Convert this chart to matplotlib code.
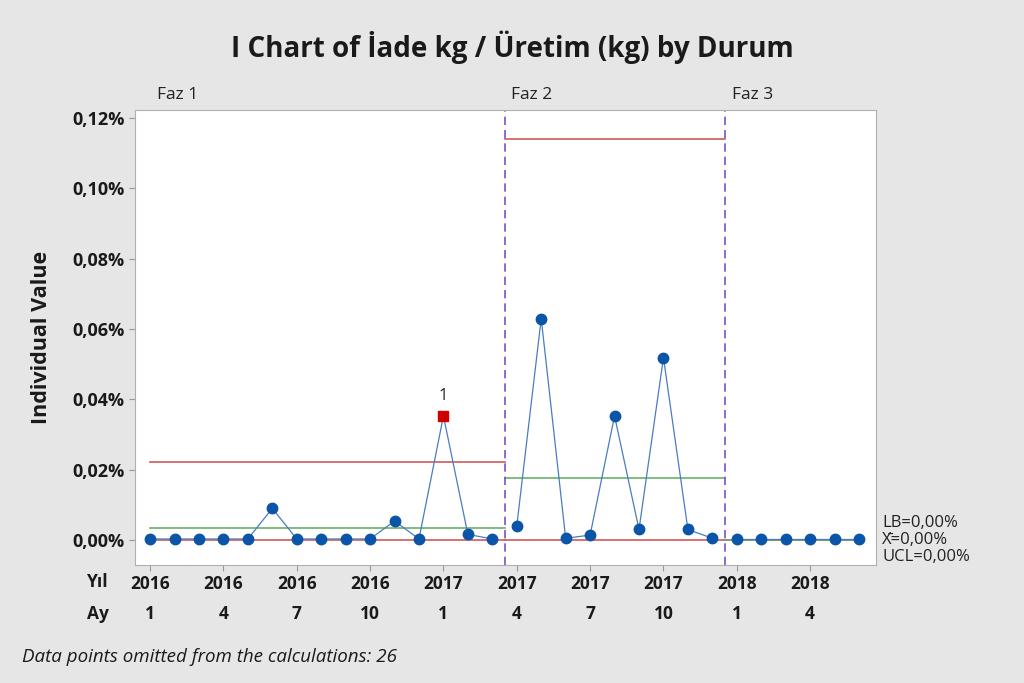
import matplotlib
matplotlib.use("Agg")
import matplotlib.pyplot as plt
from matplotlib.ticker import FuncFormatter
import matplotlib.transforms as mtransforms

plt.rcParams['font.family'] = ['Open Sans', 'DejaVu Sans']

# -------- veriler (%) --------
faz1 = [0.0003, 0.0003, 0.0003, 0.0003, 0.0003, 0.0090, 0.0003, 0.0003,
        0.0003, 0.0003, 0.0054, 0.0003, 0.0353, 0.0016, 0.0003]
faz2 = [0.0040, 0.0630, 0.0005, 0.0014, 0.0353, 0.0030, 0.0519, 0.0030, 0.0005]
faz3 = [0.0003, 0.0003, 0.0003, 0.0003, 0.0003, 0.0003]

# kontrol limitleri: (LCL, ortalama, UCL)
limit1 = (0.0, 0.0035, 0.0222)
limit2 = (0.0, 0.0177, 0.1140)
limit3 = (0.0, 0.0, 0.0)

faz_isim = ["Faz 1", "Faz 2", "Faz 3"]
yil_etiket = ["2016", "2016", "2016", "2016", "2017", "2017", "2017", "2017", "2018", "2018"]
ay_etiket = ["1", "4", "7", "10", "1", "4", "7", "10", "1", "4"]
etiket_idx = [0, 3, 6, 9, 12, 15, 18, 21, 24, 27]
alarm_idx = 12  # test 1 ile isaretli nokta

bg = "#e6e6e6"
nokta_renk = "#0a55a8"
cizgi_renk = "#4a7cc0"
kirmizi = "#d05a5a"
yesil = "#6ab06a"
mor = "#7a52c8"
yazi = "#1a1a1a"

fig = plt.figure(figsize=(10.24, 6.83), dpi=100, facecolor=bg)
ax = fig.add_axes([0.132, 0.1728, 0.7236, 0.666])
ax.set_facecolor("white")

fazlar = [faz1, faz2, faz3]
limitler = [limit1, limit2, limit3]
baslangic = 0
sinirlar = []
for i, (veri, lim) in enumerate(zip(fazlar, limitler)):
    x = list(range(baslangic, baslangic + len(veri)))
    sol = x[0] if i == 0 else x[0] - 0.5
    sag = x[-1] + 0.5 if i < 2 else x[-1]
    ax.plot([sol, sag], [lim[0], lim[0]], color=kirmizi, lw=1.2, zorder=2)
    ax.plot([sol, sag], [lim[2], lim[2]], color=kirmizi, lw=1.2, zorder=2)
    ax.plot([sol, sag], [lim[1], lim[1]], color=yesil, lw=1.2, zorder=2)
    ax.plot(x, veri, color=cizgi_renk, lw=0.9, zorder=3)
    for xi, yi in zip(x, veri):
        if xi == alarm_idx:
            ax.plot(xi, yi, marker="s", ms=7.5, color="#d00000", zorder=4)
            ax.text(xi, yi + 0.0033, "1", ha="center", va="bottom", fontsize=12, color="#222222")
        else:
            ax.plot(xi, yi, marker="o", ms=7.5, color=nokta_renk, zorder=4)
    if i < 2:
        sinirlar.append(x[-1] + 0.5)
    baslangic += len(veri)

for s in sinirlar:
    ax.axvline(s, color=mor, lw=1.2, ls=(0, (5, 3)), zorder=2)

# faz etiketleri
trans = mtransforms.blended_transform_factory(ax.transData, ax.transAxes)
faz_x = [0.3, sinirlar[0] + 0.25, sinirlar[1] + 0.3]
for fx, isim in zip(faz_x, faz_isim):
    ax.text(fx, 1.015, isim, transform=trans, ha="left", va="bottom", fontsize=12.5, color="#222222")

ax.set_xlim(-0.61, 29.7)
ax.set_ylim(-0.0071, 0.1223)
ax.set_yticks([0.0, 0.02, 0.04, 0.06, 0.08, 0.10, 0.12])
ax.yaxis.set_major_formatter(FuncFormatter(lambda v, p: ("%.2f%%" % v).replace(".", ",")))
ax.set_xticks(etiket_idx)
ax.set_xticklabels(yil_etiket)
for lab in ax.get_xticklabels():
    lab.set_fontweight("bold")
    lab.set_fontsize(12.5)
for lab in ax.get_yticklabels():
    lab.set_fontweight("bold")
    lab.set_fontsize(13)
ax.tick_params(axis="both", colors="#999999", length=4, width=0.8, labelcolor=yazi)
ax.tick_params(axis="x", pad=3)
for sp in ax.spines.values():
    sp.set_color("#b0b0b0")
    sp.set_linewidth(0.8)

# ay satiri
for xi, a in zip(etiket_idx, ay_etiket):
    ax.text(xi, -0.1077, a, transform=trans, ha="center", va="center",
            fontsize=12.5, fontweight="bold", color=yazi)
fig.text(109 / 1024, 1 - 582 / 683, "Yıl", ha="right", va="center",
         fontsize=12.5, fontweight="bold", color=yazi)
fig.text(109 / 1024, 1 - 614 / 683, "Ay", ha="right", va="center",
         fontsize=12.5, fontweight="bold", color=yazi)

ax.set_ylabel("Individual Value", fontsize=15.5, fontweight="bold", color=yazi)
ax.yaxis.set_label_coords(-0.112, 0.5)

# sag taraftaki limit etiketleri
sag_etiket = ["LB=0,00%", "X\u0304=0,00%", "UCL=0,00%"]
sag_y = [523, 540, 557]
for t, yy in zip(sag_etiket, sag_y):
    fig.text(882 / 1024, 1 - yy / 683, t, ha="left", va="center", fontsize=12, color="#222222")

fig.text(0.5, 1 - 47 / 683, "I Chart of İade kg / Üretim (kg) by Durum", ha="center", va="center",
         fontsize=20, fontweight="bold", color=yazi)
fig.text(22 / 1024, 1 - 657 / 683, "Data points omitted from the calculations: 26", ha="left",
         va="center", fontsize=13.5, style="italic", color=yazi)

fig.savefig("out.png", dpi=100, facecolor=bg)
